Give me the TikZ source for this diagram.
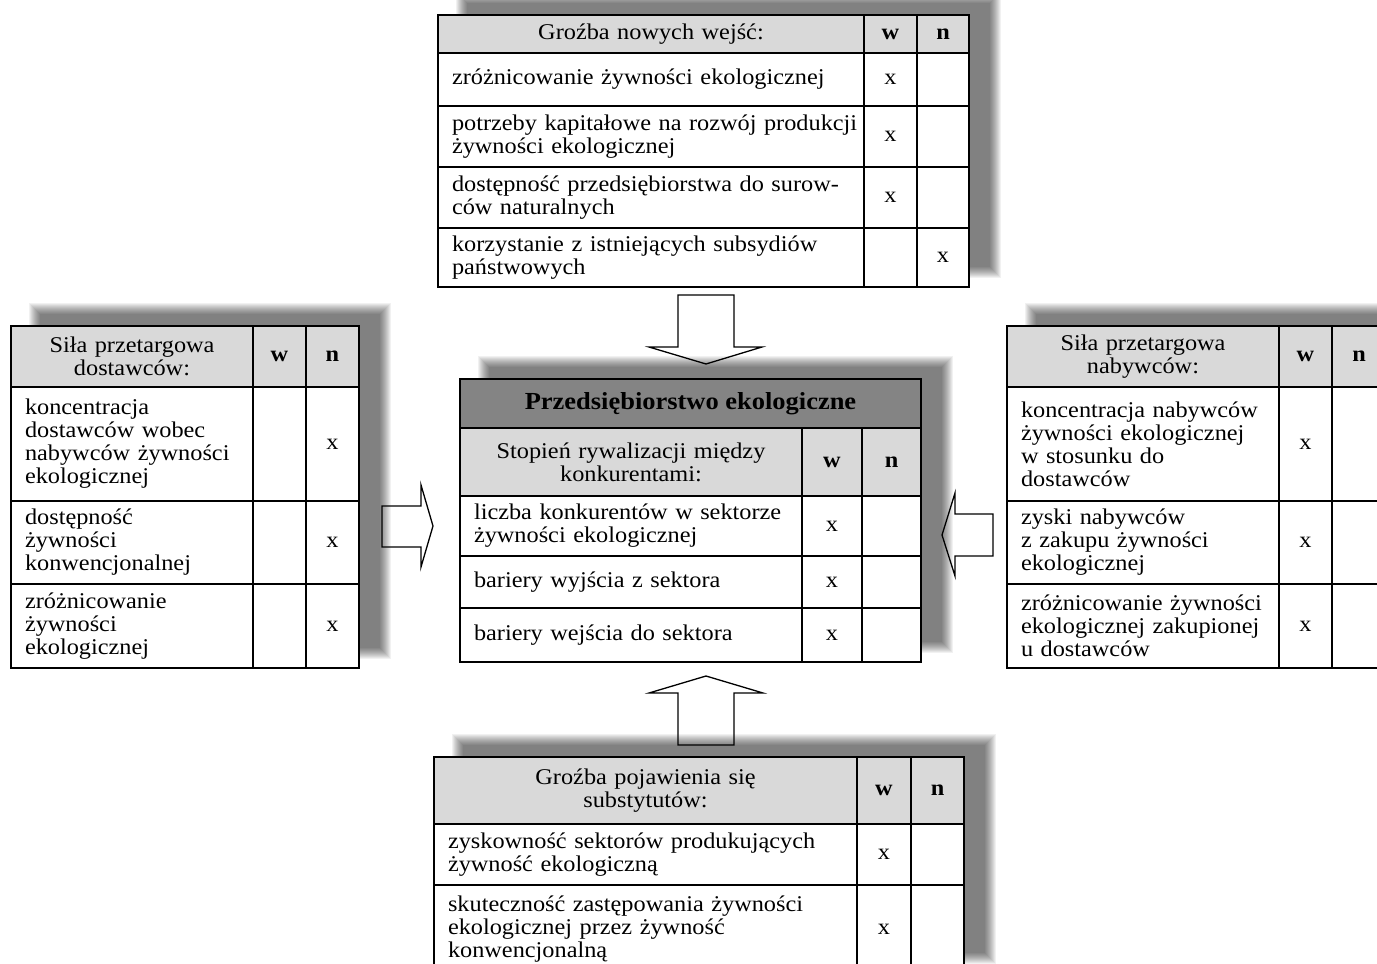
\documentclass[tikz,border=0pt]{standalone}
\usepackage{fontspec}
\setmainfont{Liberation Serif}[FakeStretch=1.08]
\usetikzlibrary{calc,backgrounds}
\definecolor{headgray}{RGB}{217,217,217}
\definecolor{titlegray}{RGB}{132,132,132}
\newcommand{\bodyfont}{\fontsize{22.5}{23}\selectfont}
\tikzset{
  cell/.style={rectangle, draw=black, line width=1.8pt, outer sep=0pt,
               inner ysep=0pt, anchor=north west},
  hcell/.style={cell, fill=headgray, align=center, inner xsep=8pt},
  wncell/.style={cell, fill=headgray, inner xsep=0pt, font=\bodyfont\bfseries},
  tcell/.style={cell, fill=white, align=left, inner xsep=4pt,
                execute at begin node={\leftskip=10pt}},
  mcell/.style={cell, fill=white, inner xsep=0pt},
  ttlcell/.style={cell, fill=titlegray, inner xsep=0pt,
                  font=\fontsize{24.5}{26}\selectfont\bfseries},
  blockarrow/.style={draw=black, line width=1.3pt, line join=miter},
  shadelayer/.style={fill=black, opacity=0.055},
}
\newcommand{\tabshadow}[2]{%
  \foreach \k in {0,...,11}{%
    \pgfmathsetmacro{\blr}{7-\k}%
    \fill[shadelayer] ($(#1)+(25-\blr,-16-\blr)$) rectangle ($(#2)+(25+\blr,-16+\blr)$);
  }}

\begin{document}
\begin{tikzpicture}[x=1pt, y=-1pt, font=\bodyfont]
  \useasboundingbox (0,0) rectangle (1377,964);

  % threat of new entrants
  \node[hcell, text width=410pt, minimum height=38pt] (N0) at (438,15) {Groźba nowych wejść:};
  \node[wncell, minimum width=53pt, minimum height=38pt] (N0w) at (N0.north east) {w};
  \node[wncell, minimum width=52pt, minimum height=38pt] (N0n) at (N0w.north east) {n};
  \node[tcell, text width=418pt, minimum height=53pt] (N1) at (N0.south west) {zróżnicowanie żywności ekologicznej};
  \node[mcell, minimum width=53pt, minimum height=53pt] (N1w) at (N1.north east) {x};
  \node[mcell, minimum width=52pt, minimum height=53pt] (N1n) at (N1w.north east) {};
  \node[tcell, text width=418pt, minimum height=61pt] (N2) at (N1.south west) {potrzeby kapitałowe na rozwój produkcji\\żywności ekologicznej};
  \node[mcell, minimum width=53pt, minimum height=61pt] (N2w) at (N2.north east) {x};
  \node[mcell, minimum width=52pt, minimum height=61pt] (N2n) at (N2w.north east) {};
  \node[tcell, text width=418pt, minimum height=61pt] (N3) at (N2.south west) {dostępność przedsiębiorstwa do surow-\\ców naturalnych};
  \node[mcell, minimum width=53pt, minimum height=61pt] (N3w) at (N3.north east) {x};
  \node[mcell, minimum width=52pt, minimum height=61pt] (N3n) at (N3w.north east) {};
  \node[tcell, text width=418pt, minimum height=59pt] (N4) at (N3.south west) {korzystanie z istniejących subsydiów\\państwowych};
  \node[mcell, minimum width=53pt, minimum height=59pt] (N4w) at (N4.north east) {};
  \node[mcell, minimum width=52pt, minimum height=59pt] (N4n) at (N4w.north east) {x};

  % suppliers
  \node[hcell, text width=226pt, minimum height=61pt] (L0) at (11,326) {Siła przetargowa\\dostawców:};
  \node[wncell, minimum width=53pt, minimum height=61pt] (L0w) at (L0.north east) {w};
  \node[wncell, minimum width=53pt, minimum height=61pt] (L0n) at (L0w.north east) {n};
  \node[tcell, text width=234pt, minimum height=114pt] (L1) at (L0.south west) {koncentracja\\dostawców wobec\\nabywców żywności\\ekologicznej};
  \node[mcell, minimum width=53pt, minimum height=114pt] (L1w) at (L1.north east) {};
  \node[mcell, minimum width=53pt, minimum height=114pt] (L1n) at (L1w.north east) {x};
  \node[tcell, text width=234pt, minimum height=83pt] (L2) at (L1.south west) {dostępność\\żywności\\konwencjonalnej};
  \node[mcell, minimum width=53pt, minimum height=83pt] (L2w) at (L2.north east) {};
  \node[mcell, minimum width=53pt, minimum height=83pt] (L2n) at (L2w.north east) {x};
  \node[tcell, text width=234pt, minimum height=84pt] (L3) at (L2.south west) {zróżnicowanie\\żywności\\ekologicznej};
  \node[mcell, minimum width=53pt, minimum height=84pt] (L3w) at (L3.north east) {};
  \node[mcell, minimum width=53pt, minimum height=84pt] (L3n) at (L3w.north east) {x};

  % rivalry
  \node[ttlcell, minimum width=461pt, minimum height=49pt] (C) at (460,379) {Przedsiębiorstwo ekologiczne};
  \node[hcell, text width=326pt, minimum height=68pt] (C0) at (C.south west) {Stopień rywalizacji między\\konkurentami:};
  \node[wncell, minimum width=60pt, minimum height=68pt] (C0w) at (C0.north east) {w};
  \node[wncell, minimum width=59pt, minimum height=68pt] (C0n) at (C0w.north east) {n};
  \node[tcell, text width=334pt, minimum height=60pt] (C1) at (C0.south west) {liczba konkurentów w sektorze\\żywności ekologicznej};
  \node[mcell, minimum width=60pt, minimum height=60pt] (C1w) at (C1.north east) {x};
  \node[mcell, minimum width=59pt, minimum height=60pt] (C1n) at (C1w.north east) {};
  \node[tcell, text width=334pt, minimum height=52pt] (C2) at (C1.south west) {bariery wyjścia z sektora};
  \node[mcell, minimum width=60pt, minimum height=52pt] (C2w) at (C2.north east) {x};
  \node[mcell, minimum width=59pt, minimum height=52pt] (C2n) at (C2w.north east) {};
  \node[tcell, text width=334pt, minimum height=54pt] (C3) at (C2.south west) {bariery wejścia do sektora};
  \node[mcell, minimum width=60pt, minimum height=54pt] (C3w) at (C3.north east) {x};
  \node[mcell, minimum width=59pt, minimum height=54pt] (C3n) at (C3w.north east) {};

  % buyers
  \node[hcell, text width=256pt, minimum height=61pt] (R0) at (1007,326) {Siła przetargowa\\nabywców:};
  \node[wncell, minimum width=53pt, minimum height=61pt] (R0w) at (R0.north east) {w};
  \node[wncell, minimum width=54pt, minimum height=61pt] (R0n) at (R0w.north east) {n};
  \node[tcell, text width=264pt, minimum height=114pt] (R1) at (R0.south west) {koncentracja nabywców\\żywności ekologicznej\\w stosunku do\\dostawców};
  \node[mcell, minimum width=53pt, minimum height=114pt] (R1w) at (R1.north east) {x};
  \node[mcell, minimum width=54pt, minimum height=114pt] (R1n) at (R1w.north east) {};
  \node[tcell, text width=264pt, minimum height=83pt] (R2) at (R1.south west) {zyski nabywców\\z zakupu żywności\\ekologicznej};
  \node[mcell, minimum width=53pt, minimum height=83pt] (R2w) at (R2.north east) {x};
  \node[mcell, minimum width=54pt, minimum height=83pt] (R2n) at (R2w.north east) {};
  \node[tcell, text width=264pt, minimum height=84pt] (R3) at (R2.south west) {zróżnicowanie żywności\\ekologicznej zakupionej\\u dostawców};
  \node[mcell, minimum width=53pt, minimum height=84pt] (R3w) at (R3.north east) {x};
  \node[mcell, minimum width=54pt, minimum height=84pt] (R3n) at (R3w.north east) {};

  % substitutes
  \node[hcell, text width=407pt, minimum height=67pt] (S0) at (434,757) {Groźba pojawienia się\\substytutów:};
  \node[wncell, minimum width=54pt, minimum height=67pt] (S0w) at (S0.north east) {w};
  \node[wncell, minimum width=53pt, minimum height=67pt] (S0n) at (S0w.north east) {n};
  \node[tcell, text width=415pt, minimum height=61pt] (S1) at (S0.south west) {zyskowność sektorów produkujących\\żywność ekologiczną};
  \node[mcell, minimum width=54pt, minimum height=61pt] (S1w) at (S1.north east) {x};
  \node[mcell, minimum width=53pt, minimum height=61pt] (S1n) at (S1w.north east) {};
  \node[tcell, text width=415pt, minimum height=88pt] (S2) at (S1.south west) {skuteczność zastępowania żywności\\ekologicznej przez żywność\\konwencjonalną};
  \node[mcell, minimum width=54pt, minimum height=88pt] (S2w) at (S2.north east) {x};
  \node[mcell, minimum width=53pt, minimum height=88pt] (S2n) at (S2w.north east) {};

  \begin{scope}[on background layer]
    \tabshadow{N0.north west}{N4n.south east}
    \tabshadow{L0.north west}{L3n.south east}
    \tabshadow{C.north west}{C3n.south east}
    \tabshadow{R0.north west}{R3n.south east}
    \tabshadow{S0.north west}{S2n.south east}
  \end{scope}

  \draw[blockarrow] (678,295) -- (734,295) -- (734,347) -- (762,347) -- (706,364) -- (649,347) -- (678,347) -- cycle;
  \draw[blockarrow] (382,506) -- (421,506) -- (421,485) -- (433,526) -- (421,567) -- (421,547) -- (382,547) -- cycle;
  \draw[blockarrow] (993,514) -- (955,514) -- (955,493) -- (942,535) -- (955,576) -- (955,556) -- (993,556) -- cycle;
  \draw[blockarrow] (678,745) -- (678,693) -- (649,693) -- (706,676) -- (763,693) -- (734,693) -- (734,745) -- cycle;
\end{tikzpicture}
\end{document}
